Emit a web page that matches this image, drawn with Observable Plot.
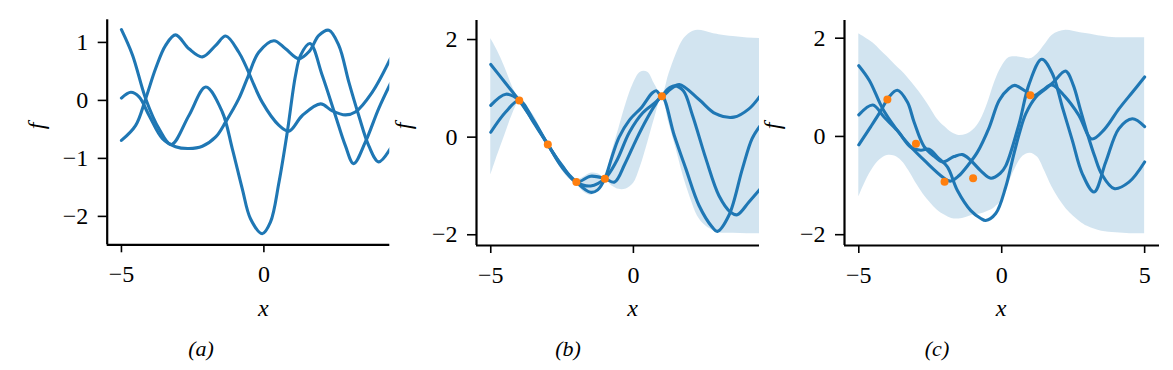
<!DOCTYPE html>
<html><head><meta charset="utf-8">
<script src="https://cdn.jsdelivr.net/npm/d3@7"></script>
<script src="https://cdn.jsdelivr.net/npm/@observablehq/plot@0.6"></script>
<style>
body{margin:0;background:#fff;}
#fig{position:relative;width:1173px;height:370px;overflow:hidden;background:#fff;font-family:"Liberation Serif",serif;}
#fig svg{position:absolute;top:0;}
.lab{position:absolute;font-style:italic;line-height:1;white-space:nowrap;color:#000;}
</style></head><body><div id="fig"></div>
<script>
// ---- data ----
const xTicksAB = [-5, 0];
const xTicksC = [-5, 0, 5];
const yTicksA = [-2, -1, 0, 1];
const yTicksBC = [-2, 0, 2];
const captions = ["(a)", "(b)", "(c)"];

// observed points
const ptX = [-4, -3, -2, -1, 1];
const ptY = [0.75, -0.15, -0.92, -0.85, 0.84];

// panel (a): prior samples
const a1 = [[-5,1.22],[-4.61,0.78],[-4.15,0.03],[-3.68,-0.49],[-3.25,-0.76],[-2.63,-0.26],[-2.04,0.23],[-1.46,-0.2],[-1.11,-0.83],[-0.76,-1.52],[-0.47,-2.04],[-0.06,-2.3],[0.23,-2.1],[0.53,-1.41],[0.82,-0.55],[1.11,0.43],[1.29,0.78],[1.62,0.98],[2.05,0.43],[2.51,-0.26],[2.86,-0.78],[3.15,-1.09],[3.56,-0.72],[4.03,-0.14],[4.44,0.29]];
const a2 = [[-5,-0.69],[-4.5,-0.43],[-4.15,0.03],[-3.8,0.55],[-3.45,0.95],[-3.1,1.13],[-2.63,0.89],[-2.16,0.75],[-1.69,0.95],[-1.34,1.11],[-0.88,0.83],[-0.64,0.6],[-0.06,-0.03],[0.53,-0.43],[0.88,-0.53],[1.35,-0.26],[1.99,-0.06],[2.4,-0.18],[2.86,-0.25],[3.21,-0.2],[3.8,0.14],[4.44,0.72]];
const a3 = [[-5,0.04],[-4.67,0.14],[-4.38,0.06],[-4.03,-0.26],[-3.56,-0.66],[-3.1,-0.8],[-2.63,-0.83],[-2.16,-0.79],[-1.69,-0.63],[-1.34,-0.37],[-0.88,0.03],[-0.55,0.42],[-0.18,0.83],[0.35,1.03],[0.76,0.89],[1.23,0.72],[1.6,0.85],[1.93,1.12],[2.28,1.21],[2.63,0.95],[2.98,0.32],[3.33,-0.26],[3.68,-0.78],[4.03,-1.06],[4.44,-0.83]];

// panel (b): posterior samples (noise-free)
const b1 = [[-5,1.49],[-4.5,1.12],[-4,0.75],[-3.5,0.32],[-3,-0.15],[-2.5,-0.6],[-2,-0.92],[-1.5,-1.13],[-1.25,-1.08],[-1,-0.85],[-0.75,-0.4],[-0.5,0.0],[-0.14,0.35],[0.3,0.62],[0.65,0.9],[0.8,0.95],[1,0.84],[1.3,0.98],[1.61,1.08],[2.3,0.77],[2.88,0.48],[3.52,0.41],[4.05,0.58],[4.45,0.85]];
const b2 = [[-5,0.65],[-4.47,0.88],[-4,0.75],[-3.5,0.3],[-3,-0.15],[-2.5,-0.62],[-2,-0.92],[-1.5,-1.0],[-1,-0.85],[-0.6,-0.5],[-0.14,0.1],[0.33,0.5],[0.79,0.72],[1,0.84],[1.2,0.98],[1.45,1.05],[1.75,0.95],[2.07,0.45],[2.54,-0.44],[3,-1.2],[3.41,-1.54],[3.64,-1.59],[4.05,-1.33],[4.45,-1.06]];
const b3 = [[-5,0.1],[-4.47,0.52],[-4,0.75],[-3.5,0.35],[-3,-0.15],[-2.5,-0.58],[-2,-0.92],[-1.5,-0.8],[-1,-0.85],[-0.66,-0.92],[-0.3,-0.55],[0.1,-0.05],[0.45,0.35],[0.75,0.65],[1,0.84],[1.43,0.04],[1.84,-0.65],[2.3,-1.4],[2.76,-1.84],[2.94,-1.93],[3.35,-1.6],[3.82,-0.65],[4.16,-0.03],[4.45,0.24]];

// panel (c): posterior samples (noisy)
const c1 = [[-5,1.44],[-4.63,1.14],[-4.16,0.56],[-3.7,0.16],[-3.23,-0.18],[-2.65,-0.52],[-2.06,-0.83],[-1.8,-0.91],[-1.5,-0.8],[-1.2,-0.6],[-0.85,-0.32],[-0.44,0.18],[-0.09,0.73],[0.26,0.98],[0.45,1.04],[0.84,0.92],[1.1,0.83],[1.45,0.95],[1.75,1.05],[2.2,0.82],[2.7,0.43],[3.15,-0.05],[3.6,0.15],[4.1,0.56],[4.6,0.92],[5,1.21]];
const c2 = [[-5,0.44],[-4.51,0.64],[-4.11,0.39],[-3.65,0.12],[-3.18,-0.22],[-2.83,-0.28],[-2.54,-0.26],[-2.25,-0.42],[-1.9,-0.62],[-1.55,-1.1],[-1.08,-1.51],[-0.73,-1.67],[-0.56,-1.71],[-0.21,-1.57],[0.14,-1.03],[0.37,-0.49],[0.61,0.05],[0.84,0.46],[1.19,0.8],[1.54,0.97],[1.8,1.1],[2.24,1.33],[2.5,1.05],[2.75,0.55],[3.0,0.05],[3.25,-0.4],[3.5,-0.77],[3.93,-1.06],[4.45,-0.93],[5,-0.52]];
const c3 = [[-5,-0.17],[-4.58,0.2],[-4.23,0.52],[-3.95,0.8],[-3.65,0.94],[-3.3,0.7],[-3.07,0.3],[-2.72,-0.2],[-2.37,-0.4],[-2.07,-0.52],[-1.67,-0.41],[-1.37,-0.37],[-1.08,-0.49],[-0.73,-0.7],[-0.38,-0.85],[-0.05,-0.75],[0.14,-0.6],[0.61,0.26],[0.96,1.07],[1.4,1.57],[1.77,1.28],[2.12,0.6],[2.47,-0.08],[2.82,-0.76],[3.23,-1.13],[3.64,-0.52],[4.1,0.16],[4.57,0.36],[5,0.2]];

// confidence bands (±2σ)
const bandX  = [-5,-4.75,-4.5,-4.25,-4,-3.75,-3.5,-3.25,-3,-2.75,-2.5,-2.25,-2,-1.75,-1.5,-1.25,-1,-0.75,-0.5,-0.25,0,0.25,0.5,0.75,1,1.25,1.5,1.75,2,2.25,2.5,2.75,3,3.5,4,4.5,5];
const bUpper = [2.02,1.75,1.42,1.05,0.77,0.62,0.45,0.17,-0.12,-0.38,-0.58,-0.76,-0.88,-0.82,-0.74,-0.75,-0.82,-0.3,0.2,0.7,1.1,1.33,1.33,1.08,0.86,1.3,1.7,2.0,2.14,2.19,2.17,2.13,2.1,2.06,2.03,2.02,2.02];
const bLower = [-0.78,-0.35,0.05,0.45,0.72,0.5,0.28,0.05,-0.18,-0.45,-0.68,-0.86,-0.96,-1.12,-1.19,-1.1,-0.88,-1.0,-1.07,-1.06,-0.95,-0.6,-0.12,0.4,0.82,0.28,-0.25,-0.8,-1.25,-1.62,-1.8,-1.9,-1.96,-1.97,-1.98,-1.98,-1.98];
const cUpper = [2.09,2.0,1.9,1.76,1.62,1.47,1.33,1.17,0.99,0.8,0.58,0.35,0.2,0.08,0.02,0.04,0.13,0.32,0.66,1.1,1.42,1.6,1.62,1.6,1.58,1.68,1.86,2.05,2.13,2.16,2.14,2.11,2.09,2.04,2.01,2.01,2.01];
const cLower = [-1.23,-0.9,-0.64,-0.47,-0.39,-0.4,-0.5,-0.7,-0.95,-1.17,-1.35,-1.5,-1.6,-1.67,-1.68,-1.65,-1.6,-1.58,-1.53,-1.45,-1.3,-0.95,-0.62,-0.4,-0.34,-0.42,-0.7,-1.02,-1.27,-1.47,-1.62,-1.74,-1.83,-1.93,-1.96,-1.98,-1.98];

// ---- drawing ----
const BLUE = "#1f77b4", ORANGE = "#ff7f0e";
const FONT = "'Liberation Serif', serif";
const fig = document.getElementById("fig");
const fmt = d => d < 0 ? "\u2212" + Math.abs(d) : String(d);

function panel(o) {
  const marks = [];
  if (o.upper) marks.push(Plot.areaY(bandX, {x: d => d, y1: o.lower, y2: o.upper, fill: BLUE, fillOpacity: 0.2, curve: "catmull-rom", clip: true}));
  for (const l of o.lines) marks.push(Plot.line(l, {x: d => d[0], y: d => d[1], stroke: BLUE, strokeWidth: 3.1, curve: "catmull-rom", clip: true}));
  if (o.points) marks.push(Plot.dot(d3.zip(ptX, ptY), {x: d => d[0], y: d => d[1], r: 4, fill: ORANGE}));
  marks.push(Plot.axisY(o.yTicks, {anchor: "left", tickSize: 9, tickPadding: 10, strokeWidth: 1.6, label: null, tickFormat: fmt}));
  marks.push(Plot.axisX(o.xTicks, {anchor: "bottom", tickSize: 8, tickPadding: 12, strokeWidth: 1.6, label: null, tickFormat: fmt}));
  marks.push(Plot.ruleX([o.xDomain[0]], {strokeWidth: 2.2}));
  marks.push(Plot.ruleY([o.yDomain[0]], {strokeWidth: 2.2}));
  const svg = Plot.plot({
    width: o.width, height: 370,
    marginLeft: o.marginLeft, marginRight: o.marginRight,
    marginTop: o.marginTop, marginBottom: o.marginBottom,
    x: {domain: o.xDomain}, y: {domain: o.yDomain},
    style: {fontFamily: FONT, fontSize: "24px", background: "transparent", color: "#000", overflow: "visible"},
    marks
  });
  svg.style.left = o.left + "px";
  svg.style.position = "absolute";
  fig.appendChild(svg);
}

panel({left: 0, width: 395, marginLeft: 106.7, marginRight: 5.7, marginTop: 19.3, marginBottom: 125.7,
  xDomain: [-5.5, 4.42], yDomain: [-2.49, 1.39], xTicks: xTicksAB, yTicks: yTicksA, lines: [a1, a2, a3]});
panel({left: 385, width: 385, marginLeft: 91, marginRight: 11, marginTop: 20, marginBottom: 125,
  xDomain: [-5.5, 4.42], yDomain: [-2.22, 2.39], xTicks: xTicksAB, yTicks: yTicksBC, lines: [b1, b2, b3],
  upper: bUpper, lower: bLower, points: true});
panel({left: 770, width: 403, marginLeft: 74, marginRight: 14, marginTop: 20, marginBottom: 125,
  xDomain: [-5.5, 5.52], yDomain: [-2.22, 2.36], xTicks: xTicksC, yTicks: yTicksBC, lines: [c1, c2, c3],
  upper: cUpper, lower: cLower, points: true});

function label(text, x, y, size, rotate) {
  const d = document.createElement("div");
  d.className = "lab";
  d.textContent = text;
  d.style.left = x + "px";
  d.style.top = y + "px";
  d.style.fontSize = size + "px";
  d.style.transform = "translate(-50%,-50%)" + (rotate ? " rotate(-90deg)" : "");
  fig.appendChild(d);
}
const zeroX = [263.3, 632.6, 1001];
const fX = [36, 403, 772];
const capX = [201, 568, 937];
for (let i = 0; i < 3; i++) {
  label("f", fX[i], 126, 24, true);
  label("x", zeroX[i], 308, 24, false);
  label(captions[i], capX[i], 349, 22, false);
}
</script></body></html>
